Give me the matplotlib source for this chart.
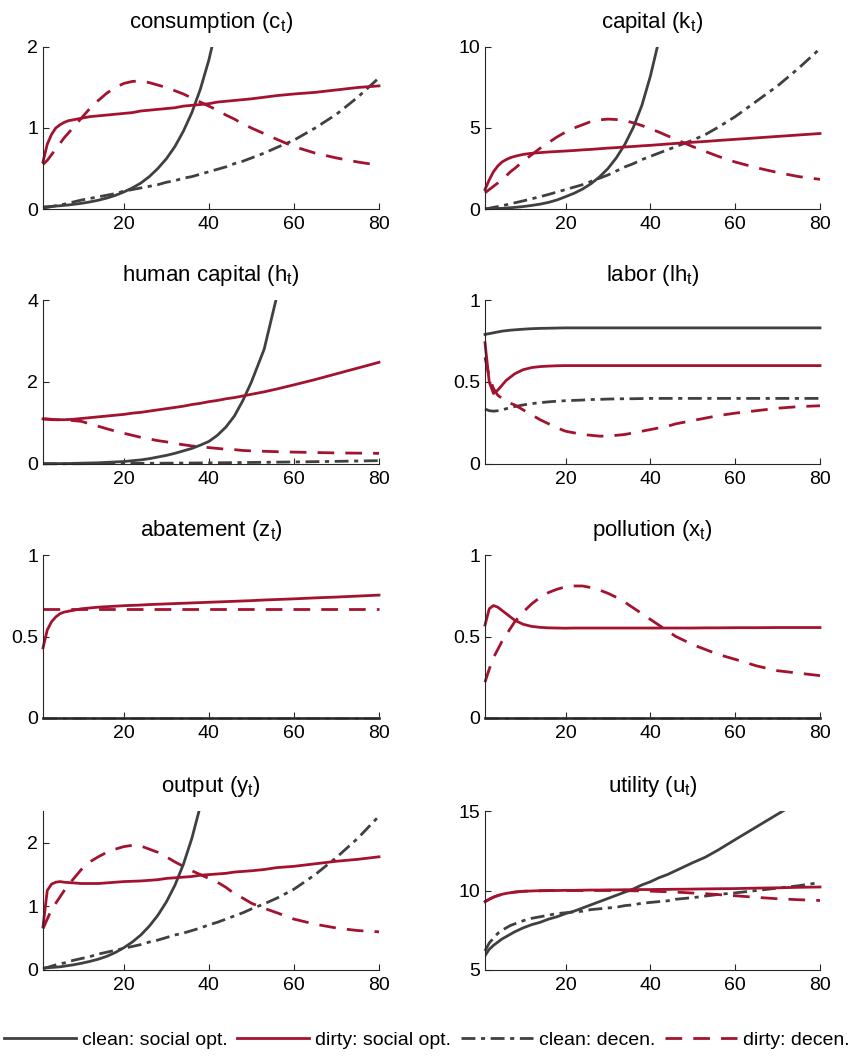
import numpy as np
import matplotlib
matplotlib.use("Agg")
import matplotlib.pyplot as plt

plt.rcParams['font.family'] = ['Liberation Sans', 'DejaVu Sans']
plt.rcParams['mathtext.fontset'] = 'custom'
plt.rcParams['mathtext.rm'] = 'Liberation Sans'
plt.rcParams['mathtext.it'] = 'Liberation Sans:italic'

nan = np.nan
t = [1, 2, 3, 4, 5, 6, 7, 8, 10, 12, 14, 16, 18, 20, 22, 24, 26, 28, 30, 32, 34, 36, 38, 40, 42, 44, 46, 48, 50,
     53, 56, 60, 65, 70, 75, 80]

# consumption
c_clean_opt = [0.026, 0.029, 0.032, 0.036, 0.04, 0.045, 0.05, 0.056, 0.07, 0.087, 0.108, 0.135, 0.168, 0.21, 0.26,
               0.32, 0.4, 0.5, 0.62, 0.77, 0.96, 1.19, 1.48, 1.84, 2.29, nan, nan, nan, nan,
               nan, nan, nan, nan, nan, nan, nan]
c_dirty_opt = [0.58, 0.8, 0.92, 1.0, 1.04, 1.07, 1.09, 1.1, 1.12, 1.14, 1.15, 1.16, 1.17, 1.18, 1.19,
               1.21, 1.22, 1.23, 1.24, 1.25, 1.27, 1.28, 1.29, 1.3, 1.32, 1.33, 1.34, 1.35, 1.36,
               1.38, 1.4, 1.42, 1.44, 1.47, 1.5, 1.52]
c_clean_dec = [0.01, 0.02, 0.03, 0.04, 0.05, 0.06, 0.07, 0.085, 0.11, 0.13, 0.15, 0.17, 0.19, 0.22, 0.24,
               0.26, 0.28, 0.3, 0.33, 0.35, 0.38, 0.4, 0.43, 0.46, 0.49, 0.52, 0.56, 0.59, 0.63,
               0.69, 0.76, 0.85, 1.0, 1.17, 1.38, 1.62]
c_dirty_dec = [0.55, 0.6, 0.67, 0.74, 0.81, 0.88, 0.94, 1.0, 1.12, 1.24, 1.34, 1.43, 1.5, 1.55, 1.575,
               1.58, 1.56, 1.53, 1.5, 1.46, 1.42, 1.37, 1.32, 1.27, 1.22, 1.16, 1.11, 1.05, 1.0,
               0.93, 0.86, 0.77, 0.69, 0.63, 0.58, 0.54]

# capital
k_clean_opt = [0.0, 0.01, 0.02, 0.03, 0.04, 0.06, 0.08, 0.1, 0.15, 0.22, 0.3, 0.41, 0.56, 0.76, 0.97,
               1.23, 1.56, 1.98, 2.5, 3.17, 4.0, 5.05, 6.4, 8.2, 10.4, nan, nan, nan, nan,
               nan, nan, nan, nan, nan, nan, nan]
k_dirty_opt = [1.2, 1.8, 2.3, 2.65, 2.9, 3.05, 3.17, 3.25, 3.37, 3.44, 3.48, 3.52, 3.55, 3.58, 3.61,
               3.65, 3.68, 3.72, 3.76, 3.79, 3.83, 3.86, 3.9, 3.93, 3.97, 4.01, 4.05, 4.08, 4.12,
               4.17, 4.23, 4.3, 4.39, 4.48, 4.57, 4.66]
k_clean_dec = [0.0, 0.05, 0.1, 0.15, 0.2, 0.26, 0.32, 0.38, 0.5, 0.63, 0.76, 0.9, 1.05, 1.2, 1.35,
               1.5, 1.7, 1.9, 2.1, 2.35, 2.6, 2.8, 3.05, 3.25, 3.45, 3.65, 3.85, 4.05, 4.25,
               4.6, 5.05, 5.7, 6.65, 7.6, 8.7, 9.9]
k_dirty_dec = [1.0, 1.2, 1.4, 1.6, 1.85, 2.05, 2.3, 2.5, 2.95, 3.35, 3.75, 4.1, 4.45, 4.75, 5.0,
               5.2, 5.4, 5.5, 5.55, 5.52, 5.45, 5.32, 5.15, 4.95, 4.75, 4.52, 4.3, 4.07, 3.85,
               3.55, 3.25, 2.9, 2.55, 2.25, 2.0, 1.83]

# human capital
h_clean_opt = [0.01, 0.01, 0.01, 0.01, 0.01, 0.01, 0.012, 0.015, 0.02, 0.025, 0.03, 0.04, 0.05, 0.06, 0.08,
               0.1, 0.13, 0.17, 0.21, 0.26, 0.32, 0.38, 0.46, 0.55, 0.7, 0.9, 1.17, 1.55, 2.0,
               2.8, 4.1, nan, nan, nan, nan, nan]
h_dirty_opt = [1.1, 1.09, 1.08, 1.08, 1.08, 1.08, 1.085, 1.09, 1.11, 1.13, 1.15, 1.17, 1.19, 1.21, 1.24,
               1.26, 1.29, 1.32, 1.35, 1.38, 1.41, 1.45, 1.48, 1.52, 1.55, 1.59, 1.62, 1.66, 1.7,
               1.76, 1.83, 1.93, 2.06, 2.2, 2.34, 2.48]
h_clean_dec = [0.005, 0.005, 0.005, 0.005, 0.006, 0.006, 0.006, 0.007, 0.008, 0.009, 0.01, 0.011, 0.012, 0.013, 0.014,
               0.015, 0.017, 0.018, 0.02, 0.021, 0.023, 0.024, 0.026, 0.028, 0.03, 0.032, 0.034, 0.036, 0.038,
               0.041, 0.045, 0.05, 0.057, 0.065, 0.073, 0.082]
h_dirty_dec = [1.1, 1.1, 1.09, 1.08, 1.08, 1.07, 1.07, 1.06, 1.04, 0.98, 0.92, 0.86, 0.8, 0.75, 0.7,
               0.65, 0.61, 0.57, 0.54, 0.5, 0.47, 0.44, 0.42, 0.4, 0.38, 0.36, 0.35, 0.33, 0.32,
               0.31, 0.3, 0.29, 0.28, 0.27, 0.265, 0.26]

# labor
l_clean_opt = [0.79, 0.795, 0.8, 0.805, 0.81, 0.813, 0.816, 0.818, 0.822, 0.825, 0.827, 0.828, 0.829] + [0.83] * 23
l_dirty_opt = [0.74, 0.5, 0.43, 0.45, 0.48, 0.51, 0.53, 0.55, 0.575, 0.588, 0.594, 0.597, 0.599] + [0.6] * 23
l_clean_dec = [0.335, 0.325, 0.322, 0.325, 0.33, 0.337, 0.344, 0.35, 0.36, 0.368, 0.374, 0.379, 0.383, 0.386, 0.388,
               0.39, 0.393, 0.394, 0.396, 0.397, 0.398, 0.398, 0.399, 0.4] + [0.4] * 12
l_dirty_dec = [0.65, 0.53, 0.46, 0.42, 0.4, 0.38, 0.37, 0.36, 0.33, 0.3, 0.27, 0.245, 0.22, 0.2, 0.19,
               0.18, 0.175, 0.17, 0.17, 0.175, 0.18, 0.19, 0.2, 0.21, 0.22, 0.23, 0.245, 0.255, 0.265,
               0.28, 0.295, 0.31, 0.325, 0.34, 0.35, 0.355]

# abatement
z_clean_opt = [0.0] * 36
z_dirty_opt = [0.43, 0.54, 0.59, 0.62, 0.64, 0.65, 0.655, 0.66, 0.67, 0.675, 0.68, 0.683, 0.686, 0.689, 0.691,
               0.693, 0.696, 0.698, 0.7, 0.702, 0.704, 0.706, 0.708, 0.71, 0.712, 0.714, 0.716, 0.718, 0.72,
               0.724, 0.727, 0.731, 0.737, 0.742, 0.748, 0.754]
z_clean_dec = [0.0] * 36
z_dirty_dec = [0.67] * 36

# pollution
x_clean_opt = [0.0] * 36
x_dirty_opt = [0.57, 0.67, 0.69, 0.68, 0.66, 0.64, 0.62, 0.6, 0.575, 0.562, 0.556, 0.553, 0.552, 0.551] + \
              [0.552] * 15 + [0.553, 0.553, 0.554, 0.554, 0.555, 0.555, 0.555]
x_clean_dec = [0.0] * 36
x_dirty_dec = [0.22, 0.3, 0.37, 0.42, 0.47, 0.51, 0.55, 0.59, 0.65, 0.7, 0.74, 0.77, 0.79, 0.805, 0.81,
               0.81, 0.8, 0.785, 0.765, 0.74, 0.71, 0.675, 0.64, 0.605, 0.57, 0.535, 0.5, 0.475, 0.45,
               0.42, 0.39, 0.36, 0.32, 0.29, 0.275, 0.26]

# output
y_clean_opt = [0.03, 0.035, 0.04, 0.045, 0.05, 0.06, 0.07, 0.08, 0.105, 0.135, 0.17, 0.215, 0.275, 0.35, 0.44,
               0.55, 0.69, 0.86, 1.07, 1.33, 1.66, 2.07, 2.58, 3.2, nan, nan, nan, nan, nan,
               nan, nan, nan, nan, nan, nan, nan]
y_dirty_opt = [0.68, 1.25, 1.35, 1.38, 1.39, 1.38, 1.375, 1.37, 1.36, 1.36, 1.36, 1.37, 1.38, 1.39, 1.395,
               1.4, 1.41, 1.42, 1.44, 1.45, 1.46, 1.47, 1.49, 1.5, 1.51, 1.52, 1.54, 1.55, 1.56,
               1.58, 1.61, 1.63, 1.67, 1.71, 1.74, 1.78]
y_clean_dec = [0.02, 0.04, 0.06, 0.08, 0.1, 0.11, 0.13, 0.15, 0.18, 0.21, 0.25, 0.28, 0.31, 0.34, 0.37,
               0.4, 0.44, 0.47, 0.51, 0.55, 0.58, 0.62, 0.66, 0.71, 0.75, 0.8, 0.85, 0.9, 0.96,
               1.04, 1.13, 1.27, 1.5, 1.77, 2.07, 2.42]
y_dirty_dec = [0.65, 0.8, 0.95, 1.05, 1.15, 1.25, 1.34, 1.42, 1.58, 1.7, 1.78, 1.85, 1.9, 1.94, 1.96,
               1.95, 1.9, 1.85, 1.78, 1.7, 1.63, 1.56, 1.5, 1.44, 1.38, 1.3, 1.2, 1.13, 1.05,
               0.97, 0.9, 0.8, 0.72, 0.66, 0.62, 0.6]

# utility
u_clean_opt = [5.9, 6.3, 6.55, 6.75, 6.95, 7.1, 7.25, 7.4, 7.65, 7.85, 8.0, 8.2, 8.35, 8.55, 8.7,
               8.9, 9.1, 9.3, 9.5, 9.7, 9.9, 10.1, 10.35, 10.55, 10.8, 11.0, 11.25, 11.5, 11.75,
               12.1, 12.55, 13.2, 14.0, 14.8, 15.6, 16.4]
u_dirty_opt = [9.3, 9.45, 9.58, 9.68, 9.76, 9.82, 9.86, 9.9, 9.95, 9.97, 9.99, 10.0, 10.0, 10.01, 10.01,
               10.02, 10.03, 10.03, 10.04, 10.04, 10.05, 10.05, 10.06, 10.06, 10.07, 10.07, 10.08, 10.08, 10.09,
               10.1, 10.11, 10.12, 10.15, 10.17, 10.2, 10.22]
u_clean_dec = [6.2, 6.7, 7.0, 7.3, 7.5, 7.65, 7.8, 7.9, 8.1, 8.25, 8.35, 8.45, 8.55, 8.6, 8.65,
               8.7, 8.8, 8.85, 8.9, 8.95, 9.05, 9.1, 9.2, 9.25, 9.3, 9.35, 9.45, 9.5, 9.55,
               9.65, 9.75, 9.85, 10.0, 10.15, 10.3, 10.5]
u_dirty_dec = [9.3, 9.45, 9.58, 9.68, 9.76, 9.82, 9.86, 9.9, 9.95, 9.97, 9.98, 9.99, 10.0, 10.0, 10.0,
               10.0, 10.0, 10.0, 10.0, 10.0, 9.99, 9.98, 9.97, 9.96, 9.94, 9.92, 9.9, 9.87, 9.84,
               9.8, 9.74, 9.67, 9.57, 9.48, 9.42, 9.37]

titles = ['consumption (c$_\\mathrm{t}$)', 'capital (k$_\\mathrm{t}$)', 'human capital (h$_\\mathrm{t}$)',
          'labor (lh$_\\mathrm{t}$)', 'abatement (z$_\\mathrm{t}$)', 'pollution (x$_\\mathrm{t}$)',
          'output (y$_\\mathrm{t}$)', 'utility (u$_\\mathrm{t}$)']
ylims = [(0, 2), (0, 10), (0, 4), (0, 1), (0, 1), (0, 1), (0, 2.5), (5, 15)]
yticks = [[0, 1, 2], [0, 5, 10], [0, 2, 4], [0, 0.5, 1], [0, 0.5, 1], [0, 0.5, 1], [0, 1, 2], [5, 10, 15]]
panels = [
    (c_clean_opt, c_dirty_opt, c_clean_dec, c_dirty_dec),
    (k_clean_opt, k_dirty_opt, k_clean_dec, k_dirty_dec),
    (h_clean_opt, h_dirty_opt, h_clean_dec, h_dirty_dec),
    (l_clean_opt, l_dirty_opt, l_clean_dec, l_dirty_dec),
    (z_clean_opt, z_dirty_opt, z_clean_dec, z_dirty_dec),
    (x_clean_opt, x_dirty_opt, x_clean_dec, x_dirty_dec),
    (y_clean_opt, y_dirty_opt, y_clean_dec, y_dirty_dec),
    (u_clean_opt, u_dirty_opt, u_clean_dec, u_dirty_dec),
]
labels = ['clean: social opt.', 'dirty: social opt.', 'clean: decen.', 'dirty: decen.']

gray = '#404040'
red = '#A3132F'
styles = [
    dict(color=gray, linestyle='-'),
    dict(color=red, linestyle='-'),
    dict(color=gray, linestyle=(0, (5, 2, 1.5, 2))),
    dict(color=red, linestyle=(0, (6, 4))),
]
# decen. lines first, social opt. on top
order = [2, 3, 0, 1]

W, H = 853, 1056
fig = plt.figure(figsize=(W / 100, H / 100), dpi=100)
lefts = [43, 485]
widths = [336, 335]
rows = [(47, 209), (300, 464), (555, 718), (811, 970)]

handles = [None] * 4
for i in range(8):
    r, col = divmod(i, 2)
    top, bot = rows[r]
    ax = fig.add_axes([lefts[col] / W, 1 - bot / H, widths[col] / W, (bot - top) / H])
    lo, hi = ylims[i]
    for k in order:
        vals = np.array(panels[i][k], dtype=float)
        clip = np.nanmax(vals) > hi
        ln, = ax.plot(t, vals, lw=2.0, clip_on=clip, label=labels[k], **styles[k])
        handles[k] = ln
    ax.set_xlim(1, 80)
    ax.set_ylim(lo, hi)
    ax.set_xticks([20, 40, 60, 80])
    ax.set_yticks(yticks[i])
    ax.set_yticklabels(['%g' % v for v in yticks[i]])
    ax.set_title(titles[i], fontsize=16, pad=14)
    for s in ['top', 'right']:
        ax.spines[s].set_visible(False)
    for s in ['left', 'bottom']:
        ax.spines[s].set_color('#262626')
        ax.spines[s].set_linewidth(0.8)
    ax.tick_params(direction='in', length=4, width=0.8, colors='#262626', labelcolor='black', labelsize=14)
    ax.tick_params(axis='x', pad=5)

fig.legend(handles, labels, loc='center', bbox_to_anchor=(0.5, 16 / H), ncol=4, frameon=False,
           fontsize=14, handlelength=3.7, handletextpad=0.31, columnspacing=0.5)

fig.savefig('out.png', dpi=100)
